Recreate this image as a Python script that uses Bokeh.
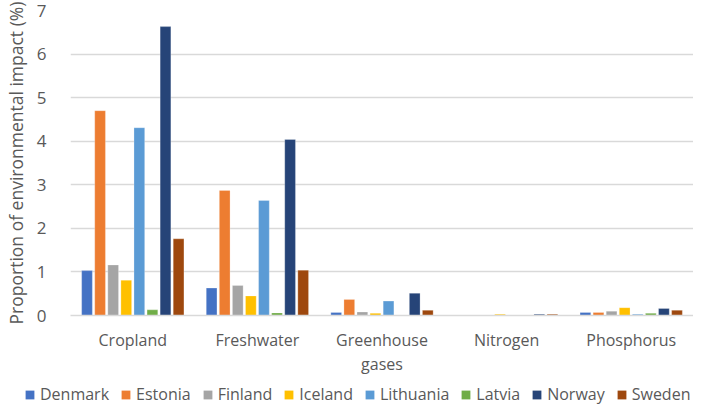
from bokeh.plotting import figure
from bokeh.models import Range1d, FixedTicker, Legend, LegendItem
from bokeh.layouts import column
from bokeh.embed import file_html
from bokeh.resources import INLINE

categories = ["Cropland", "Freshwater", "Greenhouse\ngases", "Nitrogen", "Phosphorus"]
countries = ["Denmark", "Estonia", "Finland", "Iceland", "Lithuania", "Latvia", "Norway", "Sweden"]
colors = ["#4472C4", "#ED7D31", "#A5A5A5", "#FFC000", "#5B9BD5", "#70AD47", "#264478", "#9E480E"]

denmark   = [1.03, 0.63, 0.07, 0.01, 0.07]
estonia   = [4.70, 2.87, 0.37, 0.01, 0.07]
finland   = [1.16, 0.69, 0.08, 0.01, 0.10]
iceland   = [0.81, 0.45, 0.05, 0.03, 0.18]
lithuania = [4.31, 2.64, 0.33, 0.005, 0.03]
latvia    = [0.13, 0.06, 0.01, 0.005, 0.05]
norway    = [6.63, 4.04, 0.51, 0.03, 0.16]
sweden    = [1.76, 1.04, 0.12, 0.03, 0.12]
series = [denmark, estonia, finland, iceland, lithuania, latvia, norway, sweden]

y_ticks = [0, 1, 2, 3, 4, 5, 6, 7]

FONT = "Open Sans"
GRAY = "#595959"
GRID = "#D9D9D9"

p = figure(width=693, height=377, output_backend="svg", toolbar_location=None,
           x_range=Range1d(0, len(categories)), y_range=Range1d(0, 7),
           min_border_top=10, min_border_left=58, min_border_right=0, min_border_bottom=62)
p.outline_line_color = None
p.frame_align = False

step = 0.105
bw = 0.086
xpos = [[i + 0.5 + (j - 3.5) * step for i in range(len(categories))] for j in range(len(countries))]
for j, (vals, col) in enumerate(zip(series, colors)):
    p.vbar(x=xpos[j], top=vals, width=bw, fill_color=col, line_color="white",
           line_alpha=0.5, line_width=0.5)

p.xaxis.ticker = FixedTicker(ticks=[i + 0.5 for i in range(len(categories))])
p.xaxis.major_label_overrides = {i + 0.5: c for i, c in enumerate(categories)}
p.xaxis.major_tick_line_color = None
p.xaxis.minor_tick_line_color = None
p.xaxis.axis_line_color = GRID
p.xaxis.axis_line_width = 1.5
p.xaxis.major_label_text_font = FONT
p.xaxis.major_label_text_font_size = "16px"
p.xaxis.major_label_text_color = GRAY
p.xaxis.major_label_text_line_height = 1.1
p.xaxis.major_label_standoff = 7
p.xgrid.grid_line_color = None

p.yaxis.ticker = FixedTicker(ticks=y_ticks)
p.yaxis.axis_line_color = None
p.yaxis.major_tick_line_color = None
p.yaxis.minor_tick_line_color = None
p.yaxis.major_label_text_font = FONT
p.yaxis.major_label_text_font_size = "17px"
p.yaxis.major_label_text_color = GRAY
p.yaxis.major_label_standoff = 18
p.yaxis.axis_label = "Proportion of environmental impact (%)"
p.yaxis.axis_label_text_font = FONT
p.yaxis.axis_label_text_font_size = "17.5px"
p.yaxis.axis_label_text_font_style = "normal"
p.yaxis.axis_label_text_color = GRAY
p.yaxis.axis_label_standoff = 6
p.ygrid.grid_line_color = GRID
p.ygrid.grid_line_width = 1.5

# legend strip below the chart (hidden proxy bars carry the legend swatches)
lg = figure(width=693, height=28, output_backend="svg", toolbar_location=None,
            x_range=Range1d(0, len(categories)), y_range=Range1d(0, 7),
            x_axis_type=None, y_axis_type=None,
            min_border_top=0, min_border_left=0, min_border_right=0, min_border_bottom=0)
lg.outline_line_color = None
lg.frame_align = False
lg.xgrid.grid_line_color = None
lg.ygrid.grid_line_color = None
items = []
for j, (name, vals, col) in enumerate(zip(countries, series, colors)):
    r = lg.vbar(x=xpos[j], top=vals, width=bw, fill_color=col, line_color=None)
    r.visible = False
    items.append(LegendItem(label=name, renderers=[r]))

legend = Legend(items=items, orientation="horizontal", location=(24, 0),
                label_text_font=FONT, label_text_font_size="16px",
                label_text_color=GRAY, glyph_width=11, glyph_height=11,
                spacing=11, label_standoff=5, padding=0, margin=0,
                border_line_color=None, background_fill_alpha=0)
lg.add_layout(legend, "center")

layout = column(p, lg, spacing=0)
open("out.html", "w").write(file_html(layout, INLINE))
